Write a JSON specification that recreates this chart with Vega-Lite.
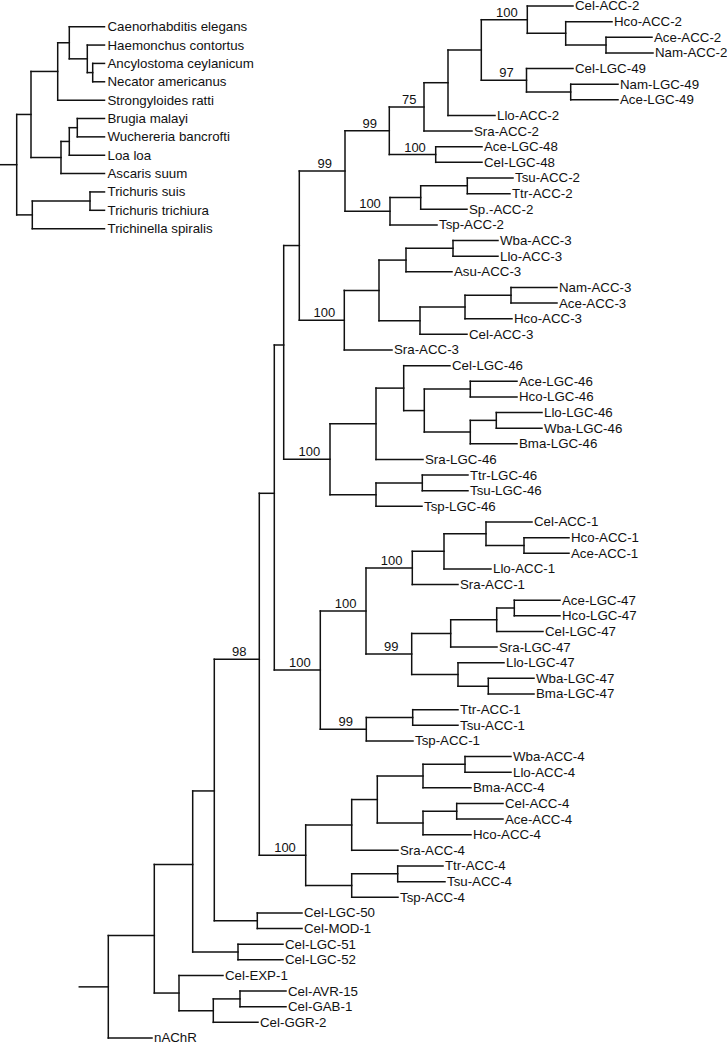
{
  "$schema": "https://vega.github.io/schema/vega-lite/v6.json",
  "width": 727,
  "height": 1044,
  "padding": 0,
  "autosize": {"type": "none"},
  "config": {"view": {"stroke": null}},
  "datasets": {
    "g_edges": [
      {"name":"Cel-ACC-2","x0":527.3,"x1":573,"r":1},
      {"name":"Hco-ACC-2","x0":565.7,"x1":612,"r":2},
      {"name":"Ace-ACC-2","x0":606,"x1":652,"r":3},
      {"name":"Nam-ACC-2","x0":606,"x1":653,"r":4},
      {"name":"Cel-LGC-49","x0":526.5,"x1":573,"r":5},
      {"name":"Nam-LGC-49","x0":570.7,"x1":618,"r":6},
      {"name":"Ace-LGC-49","x0":570.7,"x1":618,"r":7},
      {"name":"Llo-ACC-2","x0":448,"x1":495,"r":8},
      {"name":"Sra-ACC-2","x0":424,"x1":472,"r":9},
      {"name":"Ace-LGC-48","x0":435.7,"x1":482,"r":10},
      {"name":"Cel-LGC-48","x0":435.7,"x1":482,"r":11},
      {"name":"Tsu-ACC-2","x0":467.3,"x1":513,"r":12},
      {"name":"Ttr-ACC-2","x0":467.3,"x1":510,"r":13},
      {"name":"Sp.-ACC-2","x0":420.7,"x1":467,"r":14},
      {"name":"Tsp-ACC-2","x0":390,"x1":437,"r":15},
      {"name":"Wba-ACC-3","x0":453,"x1":498,"r":16},
      {"name":"Llo-ACC-3","x0":453,"x1":498,"r":17},
      {"name":"Asu-ACC-3","x0":406,"x1":452,"r":18},
      {"name":"Nam-ACC-3","x0":511,"x1":557,"r":19},
      {"name":"Ace-ACC-3","x0":511,"x1":557,"r":20},
      {"name":"Hco-ACC-3","x0":465,"x1":512,"r":21},
      {"name":"Cel-ACC-3","x0":420,"x1":467,"r":22},
      {"name":"Sra-ACC-3","x0":344.3,"x1":392,"r":23},
      {"name":"Cel-LGC-46","x0":403.7,"x1":450,"r":24},
      {"name":"Ace-LGC-46","x0":470.3,"x1":517,"r":25},
      {"name":"Hco-LGC-46","x0":470.3,"x1":517,"r":26},
      {"name":"Llo-LGC-46","x0":496.3,"x1":542,"r":27},
      {"name":"Wba-LGC-46","x0":496.3,"x1":542,"r":28},
      {"name":"Bma-LGC-46","x0":470.3,"x1":517,"r":29},
      {"name":"Sra-LGC-46","x0":376,"x1":423,"r":30},
      {"name":"Ttr-LGC-46","x0":422.3,"x1":468,"r":31},
      {"name":"Tsu-LGC-46","x0":422.3,"x1":468,"r":32},
      {"name":"Tsp-LGC-46","x0":376,"x1":422,"r":33},
      {"name":"Cel-ACC-1","x0":486,"x1":532,"r":34},
      {"name":"Hco-ACC-1","x0":524,"x1":569,"r":35},
      {"name":"Ace-ACC-1","x0":524,"x1":569,"r":36},
      {"name":"Llo-ACC-1","x0":444,"x1":491,"r":37},
      {"name":"Sra-ACC-1","x0":412.3,"x1":458,"r":38},
      {"name":"Ace-LGC-47","x0":514.3,"x1":560,"r":39},
      {"name":"Hco-LGC-47","x0":514.3,"x1":560,"r":40},
      {"name":"Cel-LGC-47","x0":496.7,"x1":543,"r":41},
      {"name":"Sra-LGC-47","x0":450.7,"x1":497,"r":42},
      {"name":"Llo-LGC-47","x0":458,"x1":504,"r":43},
      {"name":"Wba-LGC-47","x0":488.3,"x1":534,"r":44},
      {"name":"Bma-LGC-47","x0":488.3,"x1":534,"r":45},
      {"name":"Ttr-ACC-1","x0":412.7,"x1":458,"r":46},
      {"name":"Tsu-ACC-1","x0":412.7,"x1":458,"r":47},
      {"name":"Tsp-ACC-1","x0":366.3,"x1":413,"r":48},
      {"name":"Wba-ACC-4","x0":465,"x1":511,"r":49},
      {"name":"Llo-ACC-4","x0":465,"x1":511,"r":50},
      {"name":"Bma-ACC-4","x0":423,"x1":471,"r":51},
      {"name":"Cel-ACC-4","x0":456.7,"x1":503,"r":52},
      {"name":"Ace-ACC-4","x0":456.7,"x1":503,"r":53},
      {"name":"Hco-ACC-4","x0":423,"x1":471,"r":54},
      {"name":"Sra-ACC-4","x0":351.7,"x1":398,"r":55},
      {"name":"Ttr-ACC-4","x0":397.7,"x1":443,"r":56},
      {"name":"Tsu-ACC-4","x0":397.7,"x1":445,"r":57},
      {"name":"Tsp-ACC-4","x0":351.7,"x1":398,"r":58},
      {"name":"Cel-LGC-50","x0":257.3,"x1":302,"r":59},
      {"name":"Cel-MOD-1","x0":257.3,"x1":302,"r":60},
      {"name":"Cel-LGC-51","x0":238,"x1":283,"r":61},
      {"name":"Cel-LGC-52","x0":238,"x1":283,"r":62},
      {"name":"Cel-EXP-1","x0":179,"x1":223,"r":63},
      {"name":"Cel-AVR-15","x0":240,"x1":286,"r":64},
      {"name":"Cel-GAB-1","x0":240,"x1":286,"r":65},
      {"name":"Cel-GGR-2","x0":213.3,"x1":258,"r":66},
      {"name":"nAChR","x0":108.3,"x1":152,"r":67},
      {"x0":565.7,"x1":606,"r":3.5},
      {"x0":527.3,"x1":565.7,"r":2.75},
      {"x0":481.3,"x1":527.3,"r":1.875},
      {"x0":526.5,"x1":570.7,"r":6.5},
      {"x0":481.3,"x1":526.5,"r":5.75},
      {"x0":448,"x1":481.3,"r":3.8125},
      {"x0":424,"x1":448,"r":5.906},
      {"x0":389.3,"x1":424,"r":7.453},
      {"x0":389.3,"x1":435.7,"r":10.5},
      {"x0":345,"x1":389.3,"r":8.977},
      {"x0":420.7,"x1":467.3,"r":12.5},
      {"x0":390,"x1":420.7,"r":13.25},
      {"x0":345,"x1":390,"r":14.125},
      {"x0":299.3,"x1":345,"r":11.551},
      {"x0":406,"x1":453,"r":16.5},
      {"x0":379,"x1":406,"r":17.25},
      {"x0":465,"x1":511,"r":19.5},
      {"x0":420,"x1":465,"r":20.25},
      {"x0":379,"x1":420,"r":21.125},
      {"x0":344.3,"x1":379,"r":19.1875},
      {"x0":299.3,"x1":344.3,"r":21.094},
      {"x0":283.7,"x1":299.3,"r":16.32},
      {"x0":424.3,"x1":470.3,"r":25.5},
      {"x0":470.3,"x1":496.3,"r":27.5},
      {"x0":424.3,"x1":470.3,"r":28.25},
      {"x0":403.7,"x1":424.3,"r":26.875},
      {"x0":376,"x1":403.7,"r":25.4375},
      {"x0":330,"x1":376,"r":27.72},
      {"x0":376,"x1":422.3,"r":31.5},
      {"x0":330,"x1":376,"r":32.25},
      {"x0":283.7,"x1":330,"r":29.984},
      {"x0":274.3,"x1":283.7,"r":22.68},
      {"x0":486,"x1":524,"r":35.5},
      {"x0":444,"x1":486,"r":34.75},
      {"x0":412.3,"x1":444,"r":35.875},
      {"x0":366,"x1":412.3,"r":36.94},
      {"x0":496.7,"x1":514.3,"r":39.5},
      {"x0":450.7,"x1":496.7,"r":40.25},
      {"x0":411.7,"x1":450.7,"r":41.125},
      {"x0":458,"x1":488.3,"r":44.5},
      {"x0":411.7,"x1":458,"r":43.75},
      {"x0":366,"x1":411.7,"r":42.4375},
      {"x0":320.3,"x1":366,"r":39.69},
      {"x0":366.3,"x1":412.7,"r":46.5},
      {"x0":320.3,"x1":366.3,"r":47.25},
      {"x0":274.3,"x1":320.3,"r":43.47},
      {"x0":259.3,"x1":274.3,"r":32.165},
      {"x0":423,"x1":465,"r":49.5},
      {"x0":377.3,"x1":423,"r":50.25},
      {"x0":423,"x1":456.7,"r":52.5},
      {"x0":377.3,"x1":423,"r":53.25},
      {"x0":351.7,"x1":377.3,"r":51.75},
      {"x0":305.7,"x1":351.7,"r":53.375},
      {"x0":351.7,"x1":397.7,"r":56.5},
      {"x0":305.7,"x1":351.7,"r":57.25},
      {"x0":259.3,"x1":305.7,"r":55.3125},
      {"x0":214.3,"x1":259.3,"r":42.78},
      {"x0":214.3,"x1":257.3,"r":59.5},
      {"x0":192.7,"x1":214.3,"r":51.2},
      {"x0":192.7,"x1":238,"r":61.5},
      {"x0":154.3,"x1":192.7,"r":55.9},
      {"x0":213.3,"x1":240,"r":64.5},
      {"x0":179,"x1":213.3,"r":65.25},
      {"x0":154.3,"x1":179,"r":64.125},
      {"x0":108.3,"x1":154.3,"r":60.45},
      {"x0":79.3,"x1":108.3,"r":63.73}
    ],
    "g_joins": [
      {"x":606,"r0":3,"r1":4},
      {"x":565.7,"r0":2,"r1":3.5},
      {"x":527.3,"r0":1,"r1":2.75},
      {"x":570.7,"r0":6,"r1":7},
      {"x":526.5,"r0":5,"r1":6.5},
      {"x":481.3,"r0":1.875,"r1":5.75},
      {"x":448,"r0":3.8125,"r1":8},
      {"x":424,"r0":5.906,"r1":9},
      {"x":435.7,"r0":10,"r1":11},
      {"x":389.3,"r0":7.453,"r1":10.5},
      {"x":467.3,"r0":12,"r1":13},
      {"x":420.7,"r0":12.5,"r1":14},
      {"x":390,"r0":13.25,"r1":15},
      {"x":345,"r0":8.977,"r1":14.125},
      {"x":453,"r0":16,"r1":17},
      {"x":406,"r0":16.5,"r1":18},
      {"x":511,"r0":19,"r1":20},
      {"x":465,"r0":19.5,"r1":21},
      {"x":420,"r0":20.25,"r1":22},
      {"x":379,"r0":17.25,"r1":21.125},
      {"x":344.3,"r0":19.1875,"r1":23},
      {"x":299.3,"r0":11.551,"r1":21.094},
      {"x":470.3,"r0":25,"r1":26},
      {"x":496.3,"r0":27,"r1":28},
      {"x":470.3,"r0":27.5,"r1":29},
      {"x":424.3,"r0":25.5,"r1":28.25},
      {"x":403.7,"r0":24,"r1":26.875},
      {"x":376,"r0":25.4375,"r1":30},
      {"x":422.3,"r0":31,"r1":32},
      {"x":376,"r0":31.5,"r1":33},
      {"x":330,"r0":27.72,"r1":32.25},
      {"x":283.7,"r0":16.32,"r1":29.984},
      {"x":524,"r0":35,"r1":36},
      {"x":486,"r0":34,"r1":35.5},
      {"x":444,"r0":34.75,"r1":37},
      {"x":412.3,"r0":35.875,"r1":38},
      {"x":514.3,"r0":39,"r1":40},
      {"x":496.7,"r0":39.5,"r1":41},
      {"x":450.7,"r0":40.25,"r1":42},
      {"x":488.3,"r0":44,"r1":45},
      {"x":458,"r0":43,"r1":44.5},
      {"x":411.7,"r0":41.125,"r1":43.75},
      {"x":366,"r0":36.94,"r1":42.4375},
      {"x":412.7,"r0":46,"r1":47},
      {"x":366.3,"r0":46.5,"r1":48},
      {"x":320.3,"r0":39.69,"r1":47.25},
      {"x":274.3,"r0":22.68,"r1":43.47},
      {"x":465,"r0":49,"r1":50},
      {"x":423,"r0":49.5,"r1":51},
      {"x":456.7,"r0":52,"r1":53},
      {"x":423,"r0":52.5,"r1":54},
      {"x":377.3,"r0":50.25,"r1":53.25},
      {"x":351.7,"r0":51.75,"r1":55},
      {"x":397.7,"r0":56,"r1":57},
      {"x":351.7,"r0":56.5,"r1":58},
      {"x":305.7,"r0":53.375,"r1":57.25},
      {"x":259.3,"r0":32.165,"r1":55.3125},
      {"x":257.3,"r0":59,"r1":60},
      {"x":214.3,"r0":42.78,"r1":59.5},
      {"x":238,"r0":61,"r1":62},
      {"x":192.7,"r0":51.2,"r1":61.5},
      {"x":240,"r0":64,"r1":65},
      {"x":213.3,"r0":64.5,"r1":66},
      {"x":179,"r0":63,"r1":65.25},
      {"x":154.3,"r0":55.9,"r1":64.125},
      {"x":108.3,"r0":60.45,"r1":67}
    ],
    "g_boot": [
      {"v":"100","mid":504.3,"r":1.875},
      {"v":"97","mid":503.9,"r":5.75},
      {"v":"75","mid":406.65,"r":7.453},
      {"v":"99","mid":367.15,"r":8.977},
      {"v":"100","mid":412.5,"r":10.5},
      {"v":"100","mid":367.5,"r":14.125},
      {"v":"99","mid":322.15,"r":11.551},
      {"v":"100","mid":321.8,"r":21.094},
      {"v":"100","mid":306.85,"r":29.984},
      {"v":"100","mid":389.15,"r":36.94},
      {"v":"99","mid":388.85,"r":42.4375},
      {"v":"100","mid":343.15,"r":39.69},
      {"v":"99","mid":343.3,"r":47.25},
      {"v":"100","mid":297.3,"r":43.47},
      {"v":"100","mid":282.5,"r":55.3125},
      {"v":"98","mid":236.8,"r":42.78}
    ],
    "s_edges": [
      {"name":"Caenorhabditis elegans","x0":69.3,"x1":104.5,"r":1},
      {"name":"Haemonchus contortus","x0":87.3,"x1":104.5,"r":2},
      {"name":"Ancylostoma ceylanicum","x0":92.7,"x1":104.5,"r":3},
      {"name":"Necator americanus","x0":92.7,"x1":104.5,"r":4},
      {"name":"Strongyloides ratti","x0":57.7,"x1":104.5,"r":5},
      {"name":"Brugia malayi","x0":77.3,"x1":104.5,"r":6},
      {"name":"Wuchereria bancrofti","x0":77.3,"x1":104.5,"r":7},
      {"name":"Loa loa","x0":69.3,"x1":104.5,"r":8},
      {"name":"Ascaris suum","x0":61,"x1":104.5,"r":9},
      {"name":"Trichuris suis","x0":90,"x1":104.5,"r":10},
      {"name":"Trichuris trichiura","x0":90,"x1":104.5,"r":11},
      {"name":"Trichinella spiralis","x0":32.3,"x1":104.5,"r":12},
      {"x0":87.3,"x1":92.7,"r":3.5},
      {"x0":69.3,"x1":87.3,"r":2.75},
      {"x0":57.7,"x1":69.3,"r":1.875},
      {"x0":31,"x1":57.7,"r":3.4375},
      {"x0":69.3,"x1":77.3,"r":6.5},
      {"x0":61,"x1":69.3,"r":7.25},
      {"x0":31,"x1":61,"r":8.125},
      {"x0":16.7,"x1":31,"r":5.78},
      {"x0":32.3,"x1":90,"r":10.5},
      {"x0":16.7,"x1":32.3,"r":11.25},
      {"x0":0,"x1":16.7,"r":8.516}
    ],
    "s_joins": [
      {"x":92.7,"r0":3,"r1":4},
      {"x":87.3,"r0":2,"r1":3.5},
      {"x":69.3,"r0":1,"r1":2.75},
      {"x":57.7,"r0":1.875,"r1":5},
      {"x":77.3,"r0":6,"r1":7},
      {"x":69.3,"r0":6.5,"r1":8},
      {"x":61,"r0":7.25,"r1":9},
      {"x":31,"r0":3.4375,"r1":8.125},
      {"x":90,"r0":10,"r1":11},
      {"x":32.3,"r0":10.5,"r1":12},
      {"x":16.7,"r0":5.78,"r1":11.25}
    ]
  },
  "layer": [
    {
      "layer": [
        {
          "data": {"name": "g_edges"},
          "mark": {"type": "rule", "color": "#111", "strokeWidth": 1.5, "strokeCap": "square"},
          "encoding": {
            "x": {"field": "x0", "type": "quantitative", "scale": {"domain": [0, 727], "nice": false, "zero": false}, "axis": null},
            "x2": {"field": "x1"},
            "y": {"field": "r", "type": "quantitative", "scale": {"domain": [0.6163, 67.384], "reverse": true, "nice": false, "zero": false}, "axis": null}
          }
        },
        {
          "data": {"name": "g_joins"},
          "mark": {"type": "rule", "color": "#111", "strokeWidth": 1.5, "strokeCap": "square"},
          "encoding": {
            "x": {"field": "x", "type": "quantitative", "axis": null},
            "y": {"field": "r0", "type": "quantitative", "axis": null},
            "y2": {"field": "r1"}
          }
        },
        {
          "data": {"name": "g_edges"},
          "transform": [{"filter": "isValid(datum.name)"}],
          "mark": {"type": "text", "align": "left", "baseline": "middle", "dx": 2, "dy": 0.5, "font": "Liberation Sans", "fontSize": 13.3, "color": "#111"},
          "encoding": {
            "x": {"field": "x1", "type": "quantitative", "axis": null},
            "y": {"field": "r", "type": "quantitative", "axis": null},
            "text": {"field": "name"}
          }
        },
        {
          "data": {"name": "g_boot"},
          "mark": {"type": "text", "align": "center", "baseline": "alphabetic", "dx": 2.5, "dy": -3, "font": "Liberation Sans", "fontSize": 13, "color": "#111"},
          "encoding": {
            "x": {"field": "mid", "type": "quantitative", "axis": null},
            "y": {"field": "r", "type": "quantitative", "axis": null},
            "text": {"field": "v"}
          }
        }
      ]
    },
    {
      "layer": [
        {
          "data": {"name": "s_edges"},
          "mark": {"type": "rule", "color": "#111", "strokeWidth": 1.5, "strokeCap": "square"},
          "encoding": {
            "x": {"field": "x0", "type": "quantitative", "axis": null},
            "x2": {"field": "x1"},
            "y": {"field": "r", "type": "quantitative", "scale": {"domain": [-0.4542, 56.409], "reverse": true, "nice": false, "zero": false}, "axis": null}
          }
        },
        {
          "data": {"name": "s_joins"},
          "mark": {"type": "rule", "color": "#111", "strokeWidth": 1.5, "strokeCap": "square"},
          "encoding": {
            "x": {"field": "x", "type": "quantitative", "axis": null},
            "y": {"field": "r0", "type": "quantitative", "axis": null},
            "y2": {"field": "r1"}
          }
        },
        {
          "data": {"name": "s_edges"},
          "transform": [{"filter": "isValid(datum.name)"}],
          "mark": {"type": "text", "align": "left", "baseline": "middle", "dx": 3, "dy": 0.5, "font": "Liberation Sans", "fontSize": 13.3, "color": "#111"},
          "encoding": {
            "x": {"field": "x1", "type": "quantitative", "axis": null},
            "y": {"field": "r", "type": "quantitative", "axis": null},
            "text": {"field": "name"}
          }
        }
      ]
    }
  ],
  "resolve": {"scale": {"y": "independent"}}
}
